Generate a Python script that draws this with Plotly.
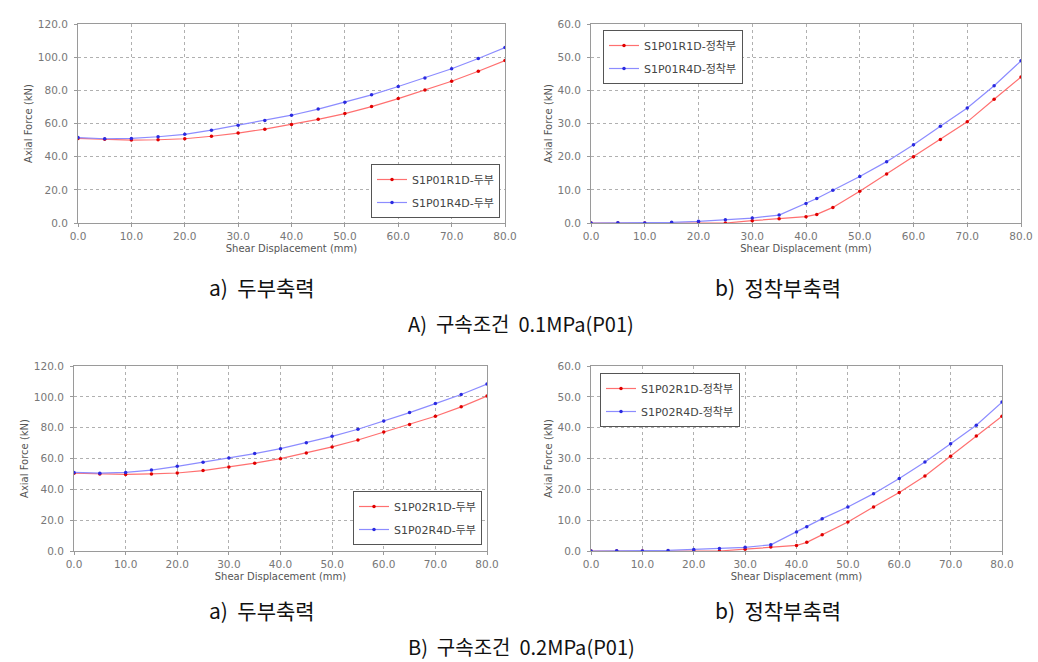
import plotly.graph_objects as go

# ---------------- data ----------------
head_x = [0, 5, 10, 15, 20, 25, 30, 35, 40, 45, 50, 55, 60, 65, 70, 75, 80]
p01_head_r1 = [51.0, 50.5, 50.0, 50.2, 50.8, 52.3, 54.2, 56.6, 59.4, 62.5, 66.0, 70.2, 75.0, 80.2, 85.5, 91.5, 98.0]
p01_head_r4 = [51.5, 50.8, 51.0, 52.0, 53.5, 56.0, 59.0, 61.8, 65.0, 68.7, 72.8, 77.3, 82.3, 87.5, 93.0, 99.2, 105.8]
p02_head_r1 = [50.5, 50.0, 49.7, 50.0, 50.6, 52.2, 54.5, 57.0, 59.9, 63.5, 67.5, 72.0, 77.2, 82.0, 87.4, 93.5, 100.5]
p02_head_r4 = [51.0, 50.5, 51.0, 52.5, 54.9, 57.5, 60.3, 63.2, 66.4, 70.2, 74.4, 79.0, 84.3, 89.8, 95.6, 101.5, 108.3]

anch_x = [0, 5, 10, 15, 20, 25, 30, 35, 40, 42, 45, 50, 55, 60, 65, 70, 75, 80]
p01_anch_r1 = [0, 0, 0, 0, 0, 0, 0.7, 1.3, 1.9, 2.6, 4.7, 9.6, 14.8, 20.0, 25.2, 30.5, 37.3, 44.0]
p01_anch_r4 = [0, 0.1, 0, 0.2, 0.5, 1.0, 1.5, 2.4, 5.9, 7.4, 9.9, 14.0, 18.5, 23.6, 29.2, 34.7, 41.4, 48.9]
p02_anch_r1 = [0, 0, 0, 0, 0, 0, 0.6, 1.3, 1.8, 2.8, 5.3, 9.4, 14.3, 19.0, 24.3, 30.7, 37.3, 43.7]
p02_anch_r4 = [0, 0.1, 0, 0.2, 0.5, 0.8, 1.2, 2.0, 6.2, 7.9, 10.5, 14.3, 18.6, 23.5, 28.9, 34.8, 40.8, 48.3]

names = [
    ["S1P01R1D-두부", "S1P01R4D-두부"],
    ["S1P01R1D-정착부", "S1P01R4D-정착부"],
    ["S1P02R1D-두부", "S1P02R4D-두부"],
    ["S1P02R1D-정착부", "S1P02R4D-정착부"],
]
x_ticks = [0, 10, 20, 30, 40, 50, 60, 70, 80]
captions_sub = ["a)  두부축력", "b)  정착부축력"]
captions_main = ["A)  구속조건  0.1MPa(P01)", "B)  구속조건  0.2MPa(P01)"]

panels = [
    (head_x, p01_head_r1, p01_head_r4, 120, 20),
    (anch_x, p01_anch_r1, p01_anch_r4, 60, 10),
    (head_x, p02_head_r1, p02_head_r4, 120, 20),
    (anch_x, p02_anch_r1, p02_anch_r4, 60, 10),
]

W, H = 1038, 662


def px(xpix):
    return xpix / W


def py(ypix):
    return 1 - ypix / H


# plot-area pixel boxes in window coords (left, right, top, bottom)
boxes = [(78, 505, 24, 223), (591, 1021, 24, 223), (74, 487, 366, 551), (591, 1002, 366, 551)]
legend_pos = [
    dict(x=px(500), y=py(218), xanchor="right", yanchor="bottom"),
    dict(x=px(603), y=py(30), xanchor="left", yanchor="top"),
    dict(x=px(482), y=py(545), xanchor="right", yanchor="bottom"),
    dict(x=px(600), y=py(373), xanchor="left", yanchor="top"),
]

RED_LINE, RED_MK = "#ff7070", "#e00000"
BLUE_LINE, BLUE_MK = "#8c8cff", "#2a2ae0"
TICK_FONT = dict(family="DejaVu Sans, sans-serif", size=10.5, color="#777777")
TITLE_FONT = dict(family="DejaVu Sans, sans-serif", size=10, color="#555555")
LEG_FONT = dict(family="DejaVu Sans, Noto Sans CJK KR, sans-serif", size=11, color="#444444")

fig = go.Figure()
layout = dict(
    width=W, height=H, margin=dict(l=0, r=0, t=0, b=0, autoexpand=False),
    paper_bgcolor="white", plot_bgcolor="white", showlegend=True,
)

for i, (xs, r1, r4, ymax, ydt) in enumerate(panels):
    k = "" if i == 0 else str(i + 1)
    leg = "legend" if i == 0 else f"legend{i + 1}"
    fig.add_trace(go.Scatter(
        x=xs, y=r1, mode="lines+markers", name=names[i][0],
        xaxis=f"x{k}", yaxis=f"y{k}", legend=leg, legendgroup=f"g{i}a",
        line=dict(color=RED_LINE, width=1.2),
        marker=dict(color=RED_MK, size=3.5, symbol="circle"),
    ))
    fig.add_trace(go.Scatter(
        x=xs, y=r4, mode="lines+markers", name=names[i][1],
        xaxis=f"x{k}", yaxis=f"y{k}", legend=leg, legendgroup=f"g{i}b",
        line=dict(color=BLUE_LINE, width=1.2),
        marker=dict(color=BLUE_MK, size=3.5, symbol="circle"),
    ))
    l, r, t, b = boxes[i]
    common = dict(
        automargin=False,
        showline=True, mirror=True, linecolor="#9a9a9a", linewidth=1,
        showgrid=True, gridcolor="#b0b0b0", griddash="dot", gridwidth=1,
        zeroline=False, ticks="outside", ticklen=3, tickcolor="#9a9a9a",
        tickfont=TICK_FONT, tickformat=".1f", ticklabeloverflow="allow",
    )
    layout[f"xaxis{k}"] = dict(
        common, domain=[px(l), px(r)], anchor=f"y{k}", range=[0, 80],
        tickmode="array", tickvals=x_ticks,
        title=dict(text="Shear Displacement (mm)", font=TITLE_FONT, standoff=4),
    )
    layout[f"yaxis{k}"] = dict(
        common, domain=[py(b), py(t)], anchor=f"x{k}", range=[0, ymax],
        dtick=ydt, tick0=0, ticklabelstandoff=4,
        title=dict(text="Axial Force (kN)", font=TITLE_FONT, standoff=3),
    )
    layout[leg] = dict(
        legend_pos[i], bgcolor="white", bordercolor="#555555", borderwidth=1,
        font=LEG_FONT, tracegroupgap=4, itemwidth=30,
    )

cap_font = dict(family="Noto Sans CJK KR, sans-serif", size=21, color="#111111")
main_font = dict(family="Noto Sans CJK KR, sans-serif", size=20, color="#111111")
annotations = []
for row, (ysub, ymain) in enumerate([(287, 323), (610, 646)]):
    annotations.append(dict(text=captions_sub[0], x=px(262), y=py(ysub), xref="paper", yref="paper",
                            showarrow=False, font=cap_font, xanchor="center", yanchor="middle"))
    annotations.append(dict(text=captions_sub[1], x=px(778), y=py(ysub), xref="paper", yref="paper",
                            showarrow=False, font=cap_font, xanchor="center", yanchor="middle"))
    annotations.append(dict(text=captions_main[row], x=px(521), y=py(ymain), xref="paper", yref="paper",
                            showarrow=False, font=main_font, xanchor="center", yanchor="middle"))
layout["annotations"] = annotations

fig.update_layout(**layout)
# remove the browser's default 8px body margin so the figure fills the window exactly
fig.write_html(
    "out.html",
    config={"displayModeBar": False},
    post_script="document.body.style.margin='0';document.body.style.overflow='hidden';",
)
